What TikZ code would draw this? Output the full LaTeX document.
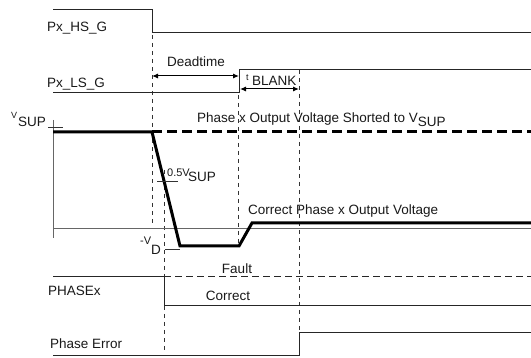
\documentclass[tikz,border=0pt]{standalone}
\usepackage{fontspec}
\setmainfont{Liberation Sans}
\usetikzlibrary{arrows.meta}
\newcommand{\nfs}{\fontsize{13.5}{16}\selectfont}
\newcommand{\sfs}{\fontsize{9}{11}\selectfont}
\tikzset{
  x=1pt, y=-1pt,
  sig/.style={line width=1pt, black!85},
  thin axis/.style={line width=0.9pt, black!60},
  guide/.style={line width=0.8pt, black!80, dash pattern=on 4pt off 4pt},
  outv/.style={line width=3pt, black},
  outdash/.style={line width=3pt, black, dash pattern=on 10pt off 5pt},
  lbl/.style={inner sep=0pt, font=\nfs, text=black!90},
  slbl/.style={inner sep=0pt, font=\sfs, text=black!90},
  dim/.style={line width=1pt, black, {Latex[length=6pt,width=5pt]}-{Latex[length=6pt,width=5pt]}},
  tick/.style={line width=0.9pt, black!80},
}
\begin{document}
\begin{tikzpicture}
\useasboundingbox (0,0) rectangle (531,358);
% guide lines
\draw[guide] (152,35) -- (152,225);
\draw[guide] (164,170) -- (164,350);
\draw[guide] (238,95) -- (238,245);
\draw[guide] (299,70) -- (299,333);
% Px_HS_G
\draw[sig] (53,10) -- (152,10) -- (152,33) -- (531,33);
\node[lbl, anchor=base west] (hs) at (47,32) {Px\_HS\_G};
% Px_LS_G
\draw[sig] (53,93) -- (239,93) -- (239,70) -- (531,70);
\node[lbl, anchor=base west] (ls) at (47,88) {Px\_LS\_G};
% Deadtime
\coordinate (dtA) at (152,76);
\coordinate (dtB) at (239,76);
\draw[dim] (dtA) -- (dtB);
\node[lbl, anchor=base] (dt) at (196,67) {Deadtime};
% tBLANK
\coordinate (tbA) at (240,89);
\coordinate (tbB) at (299,89);
\draw[dim] (tbA) -- (tbB);
\node[slbl, anchor=base west] (tbt) at (246,81) {t};
\node[lbl, anchor=base west] (tbs) at (252,86) {BLANK};
% axes
\draw[thin axis] (53,120) -- (53,238);
\draw[thin axis] (53,228) -- (531,228);
\draw[tick] (48,127) -- (63,127);
\node[slbl, anchor=base west] (vs1) at (11,119) {V};
\node[lbl, anchor=base west] (vs2) at (18,127) {SUP};
% output voltages
\draw[outdash] (152,132) -- (531,132);
\draw[outv, line join=miter] (53,132) -- (152,132) -- (180,246) -- (239,246) -- (252,223) -- (531,223);
\node[lbl, anchor=base west] (short) at (197,123) {Phase x Output Voltage Shorted to V\raisebox{-3.5pt}{SUP}};
\node[lbl, anchor=base west] (corr) at (248,215) {Correct Phase x Output Voltage};
% 0.5 VSUP
\draw[tick] (157,181) -- (178,181);
\node[lbl, anchor=base west, font=\fontsize{11}{13}\selectfont] (half) at (167,177) {0.5V};
\node[lbl, anchor=base west] (halfs) at (188,182) {SUP};
% -VD
\draw[tick] (165,249) -- (180,249);
\node[lbl, anchor=base west, font=\fontsize{11}{13}\selectfont] (vd1) at (140,245) {-V};
\node[lbl, anchor=base west] (vd2) at (151,255) {D};
% PHASEx
\draw[sig] (53,277) -- (164,277);
\draw[sig, dash pattern=on 7pt off 4pt] (164,277) -- (531,277);
\draw[sig] (164,277) -- (164,306) -- (531,306);
\node[lbl, anchor=base west] (phx) at (48,296) {PHASEx};
\node[lbl, anchor=base] (fault) at (237,274) {Fault};
\node[lbl, anchor=base] (correct) at (228,301) {Correct};
% Phase Error
\draw[sig] (53,356) -- (299,356) -- (299,333) -- (531,333);
\node[lbl, anchor=base west] (perr) at (50,349) {Phase Error};
\end{tikzpicture}
\end{document}
